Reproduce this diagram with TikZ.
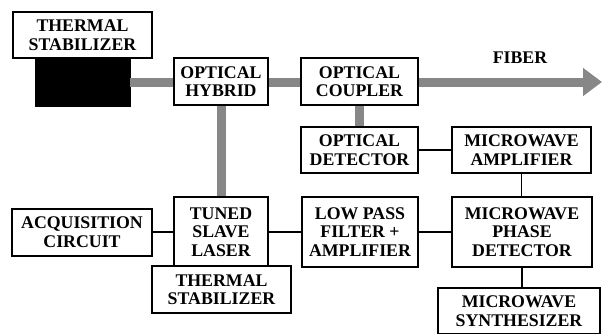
\documentclass[tikz,border=0pt]{standalone}
\usepackage{fontspec}
\setmainfont{Liberation Serif}
\usetikzlibrary{arrows.meta}
\definecolor{fibgray}{RGB}{135,135,135}
\begin{document}
\begin{tikzpicture}[x=1pt,y=-1pt,
  lbl/.style={font=\bfseries\fontsize{17.8}{18.5}\selectfont},
  blk/.style={draw=black,line width=2pt,fill=white,inner sep=0pt,align=center,lbl},
  thick line/.style={draw=fibgray,line width=9pt},
  thin line/.style={draw=black,line width=1.8pt}]
\useasboundingbox (0,0) rectangle (602,333);
% boxes
\node[blk,minimum width=139pt,minimum height=46pt] (ts1) at (82.5,35) {THERMAL\\STABILIZER};
\node[draw=black,fill=black,inner sep=0pt,minimum width=95pt,minimum height=48pt] (blackbox) at (82.5,82) {};
\node[blk,minimum width=94pt,minimum height=47pt] (hyb) at (221,81.5) {OPTICAL\\HYBRID};
\node[blk,minimum width=117pt,minimum height=47pt] (coup) at (359.5,81.5) {OPTICAL\\COUPLER};
\node[blk,minimum width=117pt,minimum height=46pt] (det) at (359.5,150) {OPTICAL\\DETECTOR};
\node[blk,minimum width=139pt,minimum height=46pt] (mamp) at (521.5,150) {MICROWAVE\\AMPLIFIER};
\node[blk,minimum width=140pt,minimum height=47pt] (acq) at (82,232) {ACQUISITION\\CIRCUIT};
\node[blk,minimum width=94pt,minimum height=70pt] (laser) at (221,232) {TUNED\\SLAVE\\LASER};
\node[blk,minimum width=139pt,minimum height=47pt] (ts2) at (221.5,289.5) {THERMAL\\STABILIZER};
\node[blk,minimum width=116pt,minimum height=70pt] (lpf) at (360,232) {LOW PASS\\FILTER +\\AMPLIFIER};
\node[blk,minimum width=140pt,minimum height=70pt] (pd) at (522,232) {MICROWAVE\\PHASE\\DETECTOR};
\node[blk,minimum width=162pt,minimum height=46pt] (synth) at (519,311) {MICROWAVE\\SYNTHESIZER};
\node[lbl,inner sep=0pt] (fib) at (520,58) {FIBER};
\coordinate (fibend) at (602,82);
% optical (gray) paths
\draw[thick line] (blackbox.east) -- (hyb.west|-blackbox.east);
\draw[thick line] (hyb.east|-blackbox.east) -- (coup.west|-blackbox.east);
\draw[thick line,-{Triangle[length=19pt,width=27pt]}] (coup.east|-blackbox.east) -- (fibend);
\draw[thick line] (hyb.south) -- (laser.north);
\draw[thick line] (coup.south) -- (det.north);
% electrical (thin) paths
\draw[thin line] (acq.east) -- (laser.west);
\draw[thin line] (laser.east) -- (lpf.west);
\draw[thin line] (lpf.east) -- (pd.west);
\draw[thin line] (det.east) -- (mamp.west);
\draw[thin line] (mamp.south) -- (mamp.south|-pd.north);
\draw[thin line] (pd.south) -- (pd.south|-synth.north);
\end{tikzpicture}
\end{document}
